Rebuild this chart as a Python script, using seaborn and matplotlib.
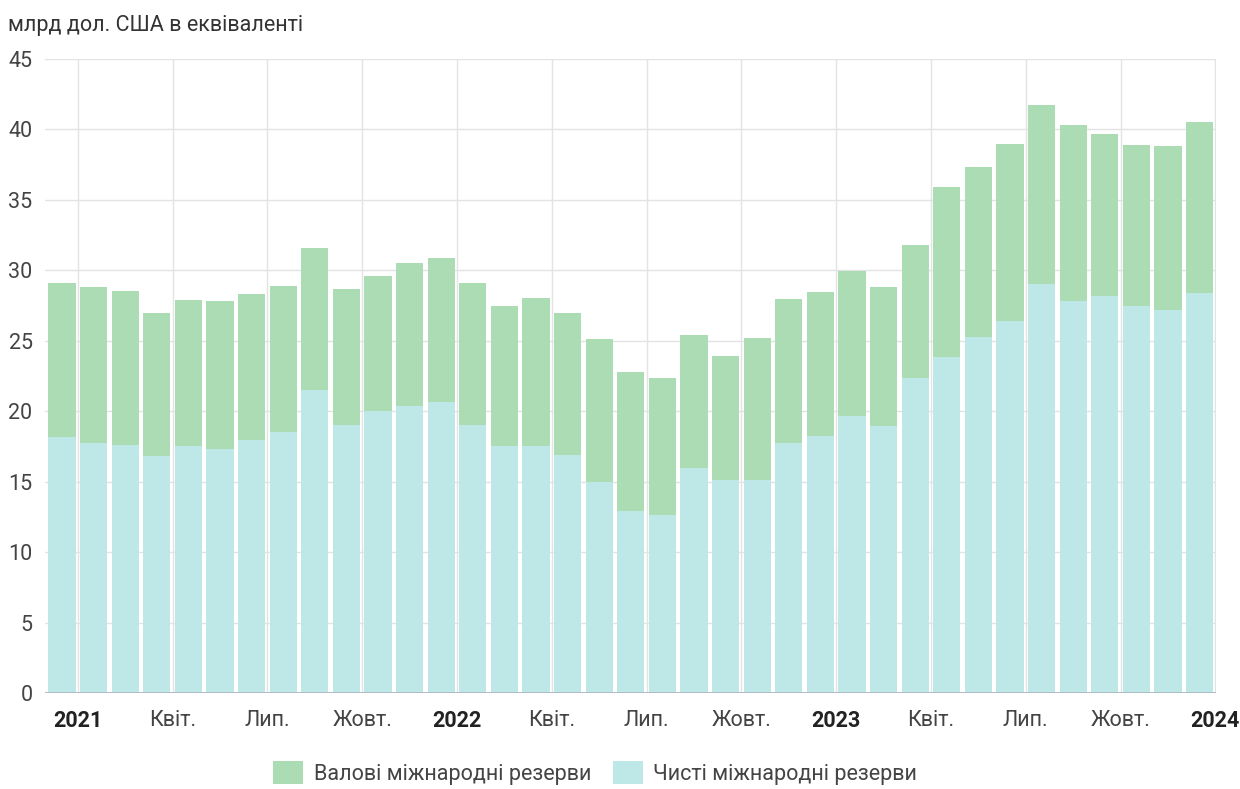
import matplotlib
matplotlib.use("Agg")
import matplotlib.pyplot as plt
from matplotlib.patches import Patch
import seaborn as sns
import pandas as pd

# Monthly reserves, Jan 2021 – Jan 2024, bn USD equivalent
months = pd.date_range("2021-01-01", "2024-01-01", freq="MS").strftime("%Y-%m").tolist()
gross_reserves = [29.1, 28.8, 28.5, 27.0, 27.9, 27.8, 28.3, 28.9, 31.6, 28.65, 29.6, 30.55,
                  30.9, 29.1, 27.5, 28.05, 26.95, 25.1, 22.75, 22.35, 25.4, 23.9, 25.2, 27.95,
                  28.45, 29.95, 28.8, 31.8, 35.9, 37.3, 39.0, 41.7, 40.35, 39.7, 38.9, 38.8,
                  40.5]
net_reserves = [18.2, 17.75, 17.6, 16.8, 17.55, 17.3, 17.95, 18.5, 21.5, 19.05, 20.0, 20.4,
                20.65, 19.0, 17.5, 17.5, 16.9, 14.95, 12.9, 12.6, 15.95, 15.15, 15.15, 17.75,
                18.25, 19.65, 18.95, 22.35, 23.85, 25.3, 26.4, 29.0, 27.8, 28.15, 27.5, 27.15,
                28.4]
tick_labels = ["2021", "Квіт.", "Лип.", "Жовт.", "2022", "Квіт.", "Лип.", "Жовт.",
               "2023", "Квіт.", "Лип.", "Жовт.", "2024"]
series_names = ["Валові міжнародні резерви", "Чисті міжнародні резерви"]
unit_label = "млрд дол. США в еквіваленті"

GREEN = "#acdcb3"
CYAN = "#bee8e8"

df = pd.DataFrame({"month": months, "gross": gross_reserves, "net": net_reserves})

sns.set_theme(style="white")
plt.rcParams["font.family"] = ["Roboto", "DejaVu Sans"]

fig = plt.figure(figsize=(12.4, 7.89), dpi=100)
ax = fig.add_axes([45 / 1240, 1 - 693 / 789, (1216 - 45) / 1240, (693 - 59) / 789])

# Gross reserves behind, net reserves overlaid on the same bars
sns.barplot(data=df, x="month", y="gross", color=GREEN, width=0.86,
            saturation=1, ax=ax, zorder=2)
sns.barplot(data=df, x="month", y="net", color=CYAN, width=0.86,
            saturation=1, ax=ax, zorder=3)

for p in ax.patches:
    p.set_edgecolor("none")

ax.set_xlim(-0.54, len(months) - 0.48)
ax.set_ylim(0, 45)
ax.set_yticks(range(0, 46, 5))
ax.set_xlabel("")
ax.set_ylabel("")

# Gridlines: horizontal at each 5, vertical at quarter boundaries
for yv in range(5, 46, 5):
    ax.axhline(yv, color="#e3e3e3", lw=1.0, zorder=1)
qpos = [0.5 + 3 * k for k in range(len(tick_labels))]
for xv in qpos:
    ax.axvline(xv, color="#e3e3e3", lw=1.0, zorder=1)
ax.axhline(0, color="#a9b8bf", lw=1.3, zorder=4)

ax.set_xticks(qpos)
ax.set_xticklabels(tick_labels)
for lbl in ax.get_xticklabels():
    if lbl.get_text().isdigit():
        lbl.set_fontweight("bold")
        lbl.set_color("#222222")
    else:
        lbl.set_color("#444444")
ax.tick_params(axis="x", length=0, pad=12, labelsize=15.5)
ax.tick_params(axis="y", length=0, pad=9, labelsize=15.5, labelcolor="#444444")
for lbl in ax.get_xticklabels():
    lbl.set_clip_on(False)

for s in ax.spines.values():
    s.set_visible(False)

fig.text(8 / 1240, 1 - 25 / 789, unit_label, fontsize=15.5, color="#333333",
         ha="left", va="center")

handles = [Patch(facecolor=GREEN, edgecolor="none"),
           Patch(facecolor=CYAN, edgecolor="none")]
fig.legend(handles, series_names, loc="center", bbox_to_anchor=(595 / 1240, 1 - 773 / 789),
           ncol=2, frameon=False, fontsize=15.5, handlelength=1.4, handleheight=1.3,
           handletextpad=0.5, columnspacing=1.0, labelcolor="#444444")

fig.savefig("out.png", dpi=100)
